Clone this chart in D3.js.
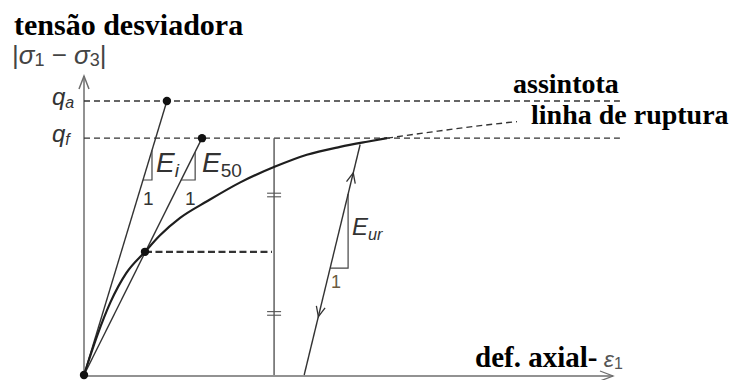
<!DOCTYPE html>
<html>
<head>
<meta charset="utf-8">
<script src="https://cdn.jsdelivr.net/npm/d3@7/dist/d3.min.js"></script>
<style>
  html, body { margin: 0; padding: 0; background: #fff; }
  svg { display: block; }
  .serif { font-family: "Liberation Serif", "Times New Roman", serif; font-weight: bold; fill: #000; }
  .sans { font-family: "Liberation Sans", Arial, sans-serif; fill: #333; }
</style>
</head>
<body>
<svg id="chart" width="738" height="380"></svg>
<script>
// Stress–strain curve of the triaxial test (strain in %, deviator stress in kPa)
const curveStrain = [0, 0.25, 0.5, 0.8, 1.155, 1.44, 1.82, 2.33, 2.96, 3.62, 4.22, 4.85, 5.36, 5.74];
const curveStress = [0, 50, 92, 129, 156, 177, 199, 220, 244, 264, 279, 289, 295.5, 300];
// Dashed continuation towards the failure line
const ruptureStrain = [5.74, 6.6, 7.4, 8.2];
const ruptureStress = [300, 308, 315, 321];
// Characteristic stresses
const qf = 300;        // failure
const qa = 347;        // asymptote
const q50 = 156;       // half of the failure stress
// Secant / tangent moduli lines (strain where each reaches its end stress)
const eiStrainAtQa = 1.57;
const e50StrainAtQf = 2.235;
const e50StrainAtQ50 = 1.155;
// Unload–reload branch
const urStrain = [4.17, 5.23];
const urStress = [0, 292];
// Vertical reference at the strain of the failure construction
const refStrain = 3.6;
const halfLineEnd = 3.56;
const dashEnd = 10.15;

const svg = d3.select("#chart");
const x = d3.scaleLinear().domain([0, 10]).range([84, 612]);
const y = d3.scaleLinear().domain([0, 380]).range([375, 75]);

const toPts = (xs, ys) => xs.map((v, i) => [x(v), y(ys[i])]);
const line = d3.line().curve(d3.curveMonotoneX);

// Axes
const axisColor = "#6e6e6e";
svg.append("line").attr("x1", x(0)).attr("x2", x(0)).attr("y1", y(0)).attr("y2", 76)
  .attr("stroke", axisColor).attr("stroke-width", 1.5);
svg.append("path").attr("d", `M${x(0) - 5},${89} L${x(0)},${76} L${x(0) + 5},${89}`)
  .attr("fill", "none").attr("stroke", axisColor).attr("stroke-width", 1.5);
svg.append("line").attr("x1", x(0)).attr("x2", x(10) + 1).attr("y1", y(0) + 1).attr("y2", y(0) + 1)
  .attr("stroke", axisColor).attr("stroke-width", 1.5);
svg.append("path").attr("d", `M${x(10) - 12},${y(0) - 4} L${x(10) + 1},${y(0) + 1} L${x(10) - 12},${y(0) + 6}`)
  .attr("fill", "none").attr("stroke", axisColor).attr("stroke-width", 1.3);

// Asymptote and failure dashed levels
[qa, qf].forEach(q => {
  svg.append("line").attr("x1", x(0)).attr("x2", x(dashEnd)).attr("y1", y(q)).attr("y2", y(q))
    .attr("stroke", "#333").attr("stroke-width", 1.4).attr("stroke-dasharray", "6,4");
});

// Vertical reference line with equal-length marks
svg.append("line").attr("x1", x(refStrain)).attr("x2", x(refStrain)).attr("y1", y(0)).attr("y2", y(qf))
  .attr("stroke", "#555").attr("stroke-width", 1.4);
[(qf + q50) / 2, q50 / 2].forEach(q => {
  [-1.8, 1.8].forEach(o => {
    svg.append("line").attr("x1", x(refStrain) - 7).attr("x2", x(refStrain) + 7)
      .attr("y1", y(q) + o).attr("y2", y(q) + o).attr("stroke", "#555").attr("stroke-width", 1.1);
  });
});

// Half-failure level
svg.append("line").attr("x1", x(e50StrainAtQ50)).attr("x2", x(halfLineEnd)).attr("y1", y(q50)).attr("y2", y(q50))
  .attr("stroke", "#333").attr("stroke-width", 2.2).attr("stroke-dasharray", "7,3.5");

// Ei and E50 lines from the origin
svg.append("line").attr("x1", x(0)).attr("y1", y(0)).attr("x2", x(eiStrainAtQa)).attr("y2", y(qa))
  .attr("stroke", "#333").attr("stroke-width", 1.4);
svg.append("line").attr("x1", x(0)).attr("y1", y(0)).attr("x2", x(e50StrainAtQf)).attr("y2", y(qf))
  .attr("stroke", "#333").attr("stroke-width", 1.4);

// Slope triangles
function slopeTriangle(e0, q0, slope, dx) {
  const pts = [[x(e0), y(q0)], [x(e0 + dx), y(q0)], [x(e0 + dx), y(q0 + slope * dx)]];
  svg.append("path").attr("d", d3.line()(pts)).attr("fill", "none")
    .attr("stroke", "#444").attr("stroke-width", 1.2);
}
const eiSlope = qa / eiStrainAtQa;
const e50Slope = qf / e50StrainAtQf;
const urSlope = (urStress[1] - urStress[0]) / (urStrain[1] - urStrain[0]);
slopeTriangle(247 / eiSlope, 247, eiSlope, 0.17);
slopeTriangle(247 / e50Slope, 247, e50Slope, 0.265);
slopeTriangle(urStrain[0] + 135.5 / urSlope, 135.5, urSlope, 0.34);

// Main curve
svg.append("path").attr("d", line(toPts(curveStrain, curveStress)))
  .attr("fill", "none").attr("stroke", "#1e1e1e").attr("stroke-width", 2.2);
// Continuation to the failure line
svg.append("path").attr("d", line(toPts(ruptureStrain, ruptureStress)))
  .attr("fill", "none").attr("stroke", "#333").attr("stroke-width", 1.4).attr("stroke-dasharray", "6,4");

// Unload–reload line with direction chevrons
svg.append("line").attr("x1", x(urStrain[0])).attr("y1", y(urStress[0]))
  .attr("x2", x(urStrain[1])).attr("y2", y(urStress[1]))
  .attr("stroke", "#333").attr("stroke-width", 1.4);
function chevron(q, dir) {
  const e = urStrain[0] + q / urSlope;
  const px = x(e), py = y(q);
  const ang = Math.atan2(y(urStress[1]) - y(urStress[0]), x(urStrain[1]) - x(urStrain[0]));
  const a = dir > 0 ? ang : ang + Math.PI;
  const L = 11, w = 0.42;
  const p1 = [px - L * Math.cos(a - w), py - L * Math.sin(a - w)];
  const p2 = [px - L * Math.cos(a + w), py - L * Math.sin(a + w)];
  svg.append("path").attr("d", `M${p1[0]},${p1[1]} L${px},${py} L${p2[0]},${p2[1]}`)
    .attr("fill", "none").attr("stroke", "#333").attr("stroke-width", 1.3);
}
chevron(256, 1);
chevron(74, -1);

// Points
[[0, 0], [e50StrainAtQ50, q50], [eiStrainAtQa, qa], [e50StrainAtQf, qf]].forEach(d => {
  svg.append("circle").attr("cx", x(d[0])).attr("cy", y(d[1])).attr("r", 4.2).attr("fill", "#111");
});

// Labels
svg.append("text").attr("class", "serif").attr("x", 14).attr("y", 35).attr("font-size", 30).text("tensão desviadora");
const sig = svg.append("text").attr("class", "sans").attr("x", 12).attr("y", 64).attr("font-size", 26)
  .style("fill", "#444");
sig.append("tspan").text("|");
sig.append("tspan").attr("font-style", "italic").text("σ");
sig.append("tspan").attr("font-size", 18).attr("dy", 2).text("1");
sig.append("tspan").attr("dy", -2).text(" − ");
sig.append("tspan").attr("font-style", "italic").text("σ");
sig.append("tspan").attr("font-size", 18).attr("dy", 2).text("3");
sig.append("tspan").attr("dy", -2).text("|");

function qLabel(q, sub) {
  const t = svg.append("text").attr("class", "sans").attr("x", 52).attr("y", y(q) + 4).attr("font-size", 24)
    .attr("font-style", "italic");
  t.append("tspan").text("q");
  t.append("tspan").attr("font-size", 16).attr("dy", 3).text(sub);
}
qLabel(qa, "a");
qLabel(qf, "f");

function modLabel(px, py, sub, size) {
  const t = svg.append("text").attr("class", "sans").attr("x", px).attr("y", py).attr("font-size", size);
  t.append("tspan").attr("font-style", "italic").text("E");
  t.append("tspan").attr("font-size", size * 0.68).attr("dy", 5)
    .attr("font-style", sub === "50" ? "normal" : "italic").text(sub);
}
modLabel(156, 172, "i", 28);
modLabel(202, 172, "50", 28);
modLabel(352, 235, "ur", 24);

[[143, 205], [185, 205]].forEach(p => {
  svg.append("text").attr("class", "sans").attr("x", p[0]).attr("y", p[1]).attr("font-size", 19).text("1");
});
svg.append("text").attr("class", "sans").attr("x", 331).attr("y", 288).attr("font-size", 18)
  .style("fill", "#6b5a3e").text("1");

svg.append("text").attr("class", "serif").attr("x", 513).attr("y", 93).attr("font-size", 28).text("assintota");
svg.append("text").attr("class", "serif").attr("x", 531).attr("y", 124).attr("font-size", 28).text("linha de ruptura");
const ax = svg.append("text").attr("class", "serif").attr("x", 475).attr("y", 367).attr("font-size", 29);
ax.append("tspan").text("def. axial-");
ax.append("tspan").attr("class", "sans").attr("font-weight", "normal").attr("font-size", 23)
  .attr("font-style", "italic").style("fill", "#555").text(" ε");
ax.append("tspan").attr("class", "sans").attr("font-weight", "normal").attr("font-size", 16).attr("dy", 2)
  .style("fill", "#555").text("1");
</script>
</body>
</html>
